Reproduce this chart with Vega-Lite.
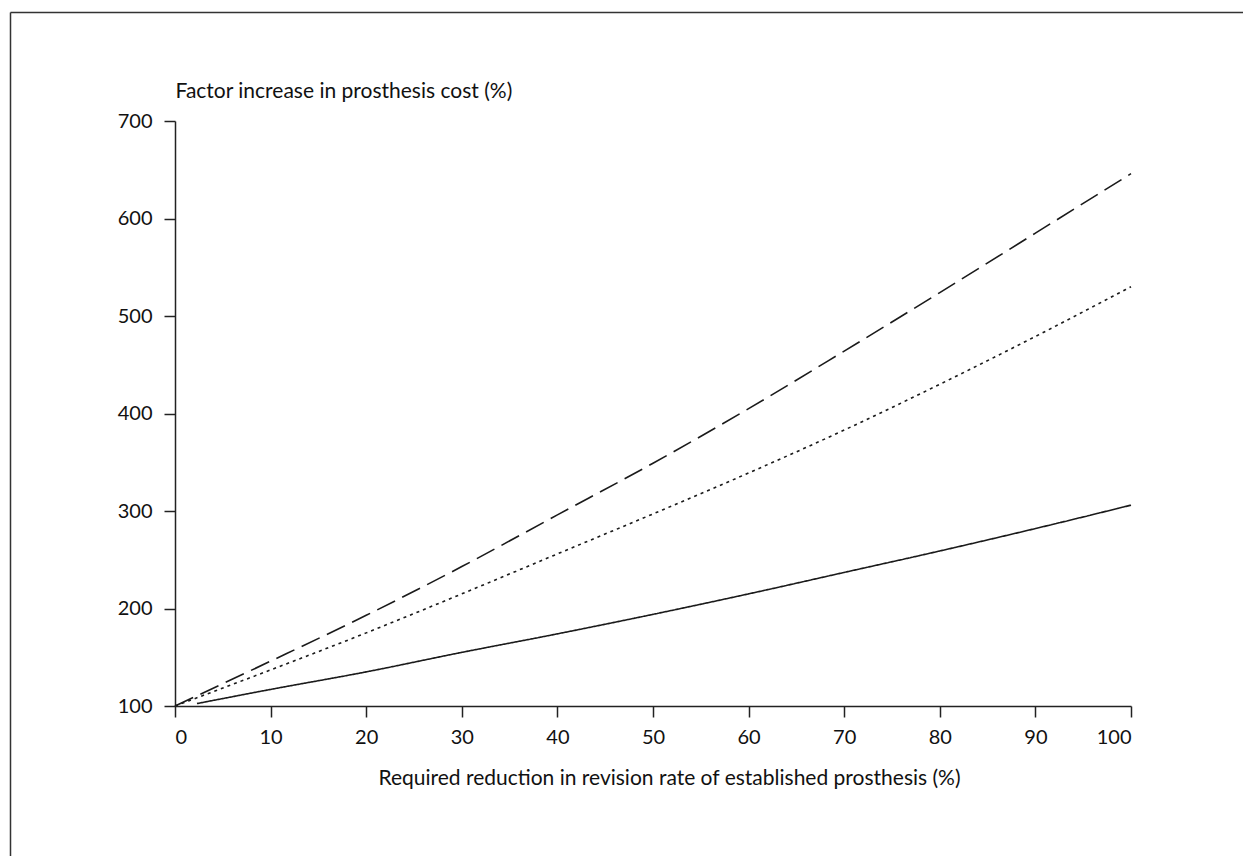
{
  "$schema": "https://vega.github.io/schema/vega-lite/v6.json",
  "width": 1233,
  "height": 844,
  "autosize": {"type": "none"},
  "padding": {"left": 10, "top": 12, "right": 0, "bottom": 0},
  "background": "white",
  "config": {
    "view": {"stroke": null},
    "font": "Lato",
    "axis": {
      "labelFont": "Lato",
      "titleFont": "Lato",
      "labelFontSize": 20,
      "titleFontSize": 21,
      "titleFontWeight": "normal",
      "labelColor": "#111",
      "titleColor": "#111",
      "domainColor": "#222",
      "domainWidth": 1.5,
      "tickColor": "#222",
      "tickWidth": 1.5,
      "tickSize": 11,
      "grid": false
    }
  },
  "data": {
    "values": [
      {"x": 0, "y": 100, "s": "dashed"},
      {"x": 10, "y": 146, "s": "dashed"},
      {"x": 20, "y": 193, "s": "dashed"},
      {"x": 30, "y": 243, "s": "dashed"},
      {"x": 40, "y": 296, "s": "dashed"},
      {"x": 50, "y": 349, "s": "dashed"},
      {"x": 60, "y": 405, "s": "dashed"},
      {"x": 70, "y": 464, "s": "dashed"},
      {"x": 80, "y": 524, "s": "dashed"},
      {"x": 90, "y": 585, "s": "dashed"},
      {"x": 100, "y": 646, "s": "dashed"},
      {"x": 0, "y": 100, "s": "dotted"},
      {"x": 10, "y": 137, "s": "dotted"},
      {"x": 20, "y": 175, "s": "dotted"},
      {"x": 30, "y": 215, "s": "dotted"},
      {"x": 40, "y": 256, "s": "dotted"},
      {"x": 50, "y": 297, "s": "dotted"},
      {"x": 60, "y": 339, "s": "dotted"},
      {"x": 70, "y": 383, "s": "dotted"},
      {"x": 80, "y": 430, "s": "dotted"},
      {"x": 90, "y": 479, "s": "dotted"},
      {"x": 100, "y": 530, "s": "dotted"},
      {"x": 2.3, "y": 102.5, "s": "solid"},
      {"x": 10, "y": 117, "s": "solid"},
      {"x": 20, "y": 135, "s": "solid"},
      {"x": 30, "y": 155, "s": "solid"},
      {"x": 40, "y": 174, "s": "solid"},
      {"x": 50, "y": 194, "s": "solid"},
      {"x": 60, "y": 215, "s": "solid"},
      {"x": 70, "y": 237, "s": "solid"},
      {"x": 80, "y": 259, "s": "solid"},
      {"x": 90, "y": 282, "s": "solid"},
      {"x": 100, "y": 306, "s": "solid"}
    ]
  },
  "layer": [
    {
      "mark": {"type": "line", "interpolate": "monotone", "color": "#1a1a1a", "strokeWidth": 1.6, "clip": false},
      "encoding": {
        "x": {
          "field": "x",
          "type": "quantitative",
          "scale": {"domain": [0, 100], "range": [165, 1121], "nice": false, "zero": false},
          "axis": {
            "orient": "bottom",
            "values": [0, 10, 20, 30, 40, 50, 60, 70, 80, 90, 100],
            "offset": -150,
            "labelPadding": 10,
            "title": "Required reduction in revision rate of established prosthesis (%)",
            "titleX": 659,
            "titleY": 72,
            "titleAlign": "center",
            "titleBaseline": "middle"
          }
        },
        "y": {
          "field": "y",
          "type": "quantitative",
          "scale": {"domain": [100, 700], "range": [694, 109], "nice": false, "zero": false},
          "axis": {
            "orient": "left",
            "values": [100, 200, 300, 400, 500, 600, 700],
            "offset": -165,
            "labelPadding": 12,
            "title": "Factor increase in prosthesis cost (%)",
            "titleAngle": 0,
            "titleX": 0,
            "titleY": 79,
            "titleAlign": "left",
            "titleBaseline": "middle"
          }
        },
        "strokeDash": {
          "field": "s",
          "type": "nominal",
          "scale": {"domain": ["solid", "dotted", "dashed"], "range": [[1, 0], [3, 4], [20, 8]]},
          "legend": null
        },
        "detail": {"field": "s"}
      }
    },
    {
      "mark": {"type": "point", "opacity": 0, "clip": false},
      "encoding": {
        "x": {
          "field": "x",
          "type": "quantitative",
          "scale": {"domain": [0, 100], "range": [0, 1400], "nice": false, "zero": false},
          "axis": {"orient": "top", "ticks": false, "labels": false, "title": null, "domainColor": "#333", "domainWidth": 1.5}
        },
        "y": {
          "field": "y",
          "type": "quantitative",
          "scale": {"domain": [100, 700], "range": [1000, 0], "nice": false, "zero": false},
          "axis": {"orient": "left", "ticks": false, "labels": false, "title": null, "domainColor": "#333", "domainWidth": 1.5}
        }
      }
    }
  ],
  "resolve": {
    "scale": {"x": "independent", "y": "independent"},
    "axis": {"x": "independent", "y": "independent"}
  }
}
